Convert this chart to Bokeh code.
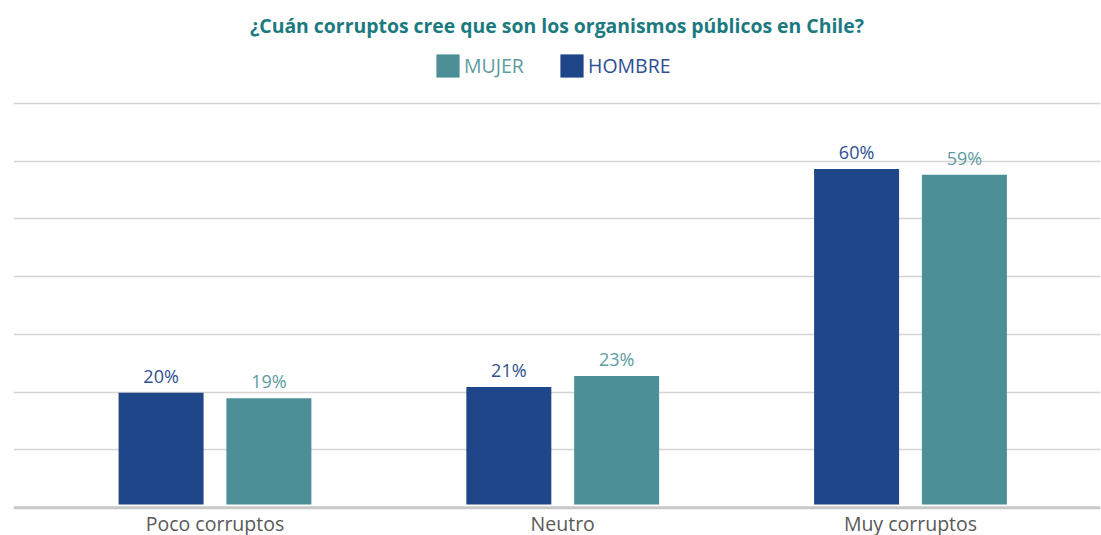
from bokeh.plotting import figure
from bokeh.models import (Range1d, ColumnDataSource, LabelSet, Legend, LegendItem,
                          Grid, FixedTicker, Span)
from bokeh.core.properties import value
from bokeh.embed import file_html
from bokeh.resources import INLINE
import numpy as np

# ---------------- data ----------------
title_text = "¿Cuán corruptos cree que son los organismos públicos en Chile?"
categories = ["Poco corruptos", "Neutro", "Muy corruptos"]
hombre = [20, 21, 60]          # % HOMBRE
mujer = [19, 23, 59]           # % MUJER
grid_values = [10, 20, 30, 40, 50, 60, 70]   # background gridline levels

# ---------------- style ----------------
HOMBRE_COLOR = "#1E4689"
MUJER_COLOR = "#4D8F96"
HOMBRE_TEXT = "#2E4F91"
MUJER_TEXT = "#5C9CA1"
TITLE_COLOR = "#1B7A80"
GRID_COLOR = "#D4D4D4"
FONT = "Open Sans"

W, H = 1101, 535
TOP = 40               # frame top (px)
BAR0 = 504             # pixel row of the bars' zero
GRID0 = 507.2          # pixel row of the baseline
PX_PER_PCT = 5.59      # bar scale
GRID_PX = 57.77        # px per gridline step

p = figure(width=W, height=H, output_backend="svg", toolbar_location=None,
           x_range=Range1d(-0.5794, 2.5464),
           y_range=Range1d(-(H - BAR0) / PX_PER_PCT, (BAR0 - TOP) / PX_PER_PCT),
           min_border_left=13, min_border_right=1, min_border_top=TOP,
           min_border_bottom=0, outline_line_color=None)

p.extra_y_ranges = {"grid": Range1d(-(H - GRID0) / GRID_PX * 10, (GRID0 - TOP) / GRID_PX * 10)}

p.xgrid.visible = False
p.ygrid.visible = False
p.yaxis.visible = False
p.xaxis.visible = False

grid = Grid(dimension=1, y_range_name="grid", ticker=FixedTicker(ticks=grid_values),
            grid_line_color=GRID_COLOR, grid_line_width=1.5)
p.add_layout(grid)
p.add_layout(Span(location=0, dimension="width", y_range_name="grid",
                  line_color="#C8C8C8", line_width=3, level="underlay"))

idx = np.arange(len(categories))
off = 0.155
bw = 0.2444

src_h = ColumnDataSource(dict(x=idx - off, top=hombre, text=[f"{v}%" for v in hombre]))
src_m = ColumnDataSource(dict(x=idx + off, top=mujer, text=[f"{v}%" for v in mujer]))
src_c = ColumnDataSource(dict(x=idx, y=[0] * len(categories), text=categories))

r_h = p.vbar(x="x", top="top", width=bw, source=src_h, fill_color=HOMBRE_COLOR, line_color=None)
r_m = p.vbar(x="x", top="top", width=bw, source=src_m, fill_color=MUJER_COLOR, line_color=None)

for src, col in ((src_h, HOMBRE_TEXT), (src_m, MUJER_TEXT)):
    p.add_layout(LabelSet(x="x", y="top", text="text", source=src, text_align="center",
                          text_baseline="bottom", y_offset=5, text_font_size=value("18px"),
                          text_font=value(FONT), text_color=value(col)))

# category labels below the baseline
p.add_layout(LabelSet(x="x", y="y", text="text", source=src_c, text_align="center",
                      text_baseline="alphabetic", y_offset=-26, text_font_size=value("19.5px"),
                      text_font=value(FONT), text_color=value("#595959")))

# title
p.title.text = title_text
p.title.align = "center"
p.title.text_font = FONT
p.title.text_font_size = "19.4px"
p.title.text_font_style = "bold"
p.title.text_color = TITLE_COLOR
p.title.standoff = 4

# legends (one per item to allow coloured labels)
for r, lab, col, x in ((r_m, "MUJER", MUJER_TEXT, 420), (r_h, "HOMBRE", HOMBRE_TEXT, 544)):
    leg = Legend(items=[LegendItem(label=lab, renderers=[r])], location=(x, H - 79.6),
                 orientation="horizontal", glyph_width=29, glyph_height=29,
                 label_standoff=2, padding=0, margin=0, border_line_color=None,
                 background_fill_alpha=0, label_text_font=FONT,
                 label_text_font_size="19.5px", label_text_color=col)
    p.add_layout(leg)

open("out.html", "w").write(file_html(p, INLINE))
